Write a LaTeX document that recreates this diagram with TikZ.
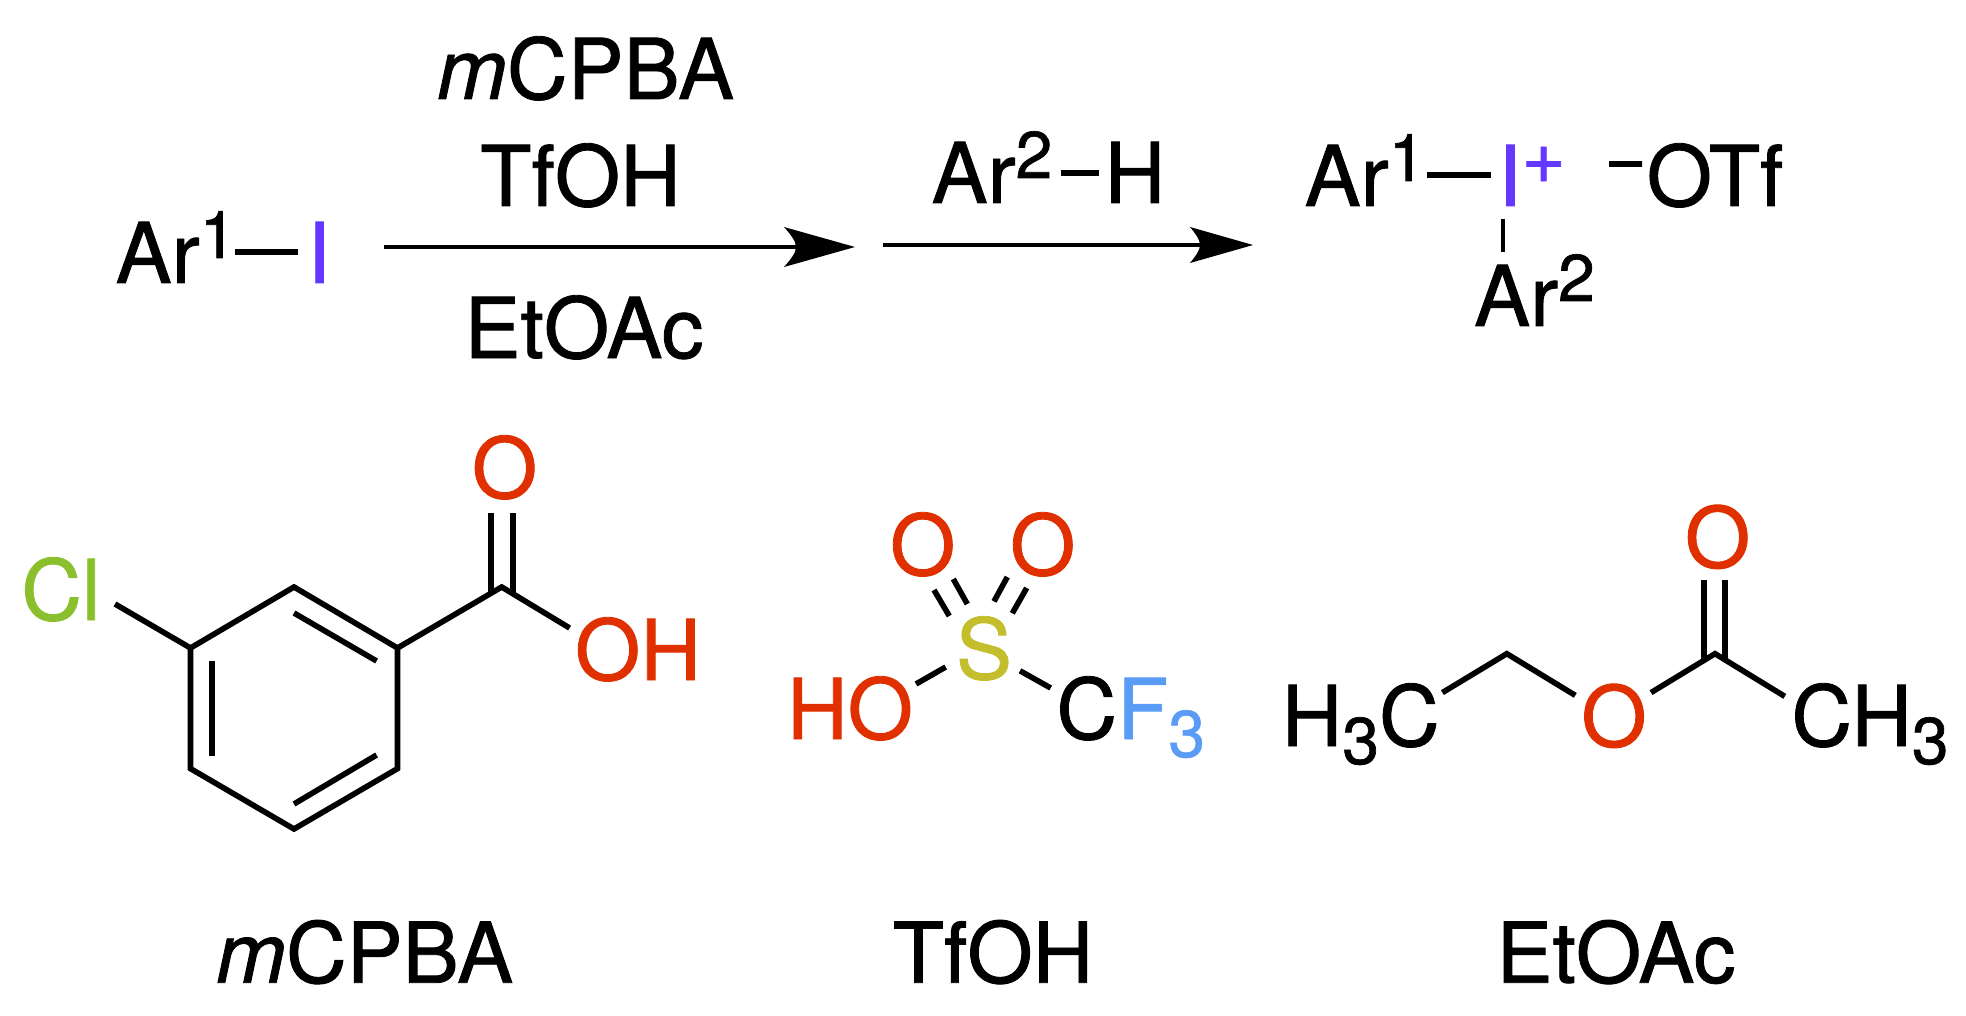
\documentclass[tikz,border=0pt]{standalone}
\usepackage{fontspec}
\setmainfont{TeX Gyre Heros}[FakeBold=1]
\usetikzlibrary{arrows.meta}
\definecolor{iod}{HTML}{6438FF}
\definecolor{oxy}{HTML}{E03000}
\definecolor{chl}{HTML}{8CBF2E}
\definecolor{sul}{HTML}{C4BE2C}
\definecolor{flu}{HTML}{5A9CF5}
\newcommand{\mkhead}[4]{%
  \pgfdeclarearrow{name=#1,
    setup code={\pgfarrowssettipend{#2}\pgfarrowssetlineend{#4}\pgfarrowssetvisualbackend{0pt}\pgfarrowssetbackend{0pt}},
    drawing code={%
      \pgfpathmoveto{\pgfqpoint{#2}{0pt}}%
      \pgfpathlineto{\pgfqpoint{0pt}{#3}}%
      \pgfpathcurveto{\pgfqpoint{0.55\dimexpr#4\relax}{0.62\dimexpr#3\relax}}{\pgfqpoint{\dimexpr#4\relax}{0.3\dimexpr#3\relax}}{\pgfqpoint{#4}{0pt}}%
      \pgfpathcurveto{\pgfqpoint{\dimexpr#4\relax}{-0.3\dimexpr#3\relax}}{\pgfqpoint{0.55\dimexpr#4\relax}{-0.62\dimexpr#3\relax}}{\pgfqpoint{0pt}{-#3}}%
      \pgfpathclose\pgfusepathqfill}}}
\mkhead{HeadA}{35.5pt}{10pt}{6pt}
\mkhead{HeadB}{31.5pt}{9pt}{5pt}
\newcommand{\supn}[1]{\raisebox{12.5pt}{\fontsize{33}{33}\selectfont #1}}
\newcommand{\subn}[1]{\raisebox{-9pt}{\fontsize{33}{33}\selectfont #1}}
\newcommand{\chgp}[1]{\raisebox{11.5pt}{\fontsize{38}{38}\selectfont #1}}
\newcommand{\chgm}[1]{\raisebox{12pt}{\fontsize{36}{36}\selectfont #1}}
\tikzset{
  lbl/.style={anchor=base,inner sep=0pt,font=\fontsize{42}{50}\selectfont},
  bond/.style={line width=2.8pt,line cap=butt,line join=miter},
  tbond/.style={line width=3.2pt,line cap=butt},
  rxn/.style={line width=2.2pt}
}
\begin{document}
\begin{tikzpicture}[x=0.5pt,y=-0.5pt]
\useasboundingbox (0,0) rectangle (1966,1016);
% --- reaction scheme
\node[lbl] (ar1) at (176,283) {Ar\supn{1}};
\node[lbl,text=iod] (iodo) at (319,283) {I};
\coordinate (ar1b) at (235,252);
\coordinate (iodob) at (298,252);
\draw[tbond] (ar1b) -- (iodob);
\node[lbl] (reagA) at (585.5,99) {\textit{m}CPBA};
\node[lbl] (reagB) at (580.5,206) {TfOH};
\node[lbl] (reagC) at (584,358) {EtOAc};
\coordinate (a1s) at (384,247);
\coordinate (a1e) at (855,247);
\draw[rxn,-{HeadA}] (a1s) -- (a1e);
\node[lbl] (ar2r) at (992,203) {Ar\supn{2}};
\node[lbl] (hr) at (1135,203) {H};
\coordinate (ar2rb) at (1061,173);
\coordinate (hrb) at (1099,173);
\draw[tbond] (ar2rb) -- (hrb);
\coordinate (a2s) at (883,245);
\coordinate (a2e) at (1253,245);
\draw[rxn,-{HeadB}] (a2s) -- (a2e);
\node[lbl] (par1) at (1365,206) {Ar\supn{1}};
\node[lbl,text=iod] (piod) at (1532,206) {I\chgp{+}};
\node[lbl] (otf) at (1694,206) {\chgm{−}OTf};
\node[lbl] (par2) at (1534.5,326) {Ar\supn{2}};
\coordinate (par1b) at (1427,175);
\coordinate (piodb) at (1491,175);
\draw[tbond] (par1b) -- (piodb);
\coordinate (piodv) at (1503,219);
\coordinate (par2v) at (1503,252);
\draw[line width=2.4pt] (piodv) -- (par2v);
% --- mCPBA
\coordinate (r1) at (294,587);
\coordinate (r2) at (397.5,648);
\coordinate (r3) at (397.5,768.6);
\coordinate (r4) at (294,829);
\coordinate (r5) at (190.5,768.6);
\coordinate (r6) at (190.5,648);
\draw[bond] (r1) -- (r2) -- (r3) -- (r4) -- (r5) -- (r6) -- cycle;
\coordinate (d1a) at (294,613);  \coordinate (d1b) at (376.6,661);
\coordinate (d2a) at (212,661);  \coordinate (d2b) at (212,755.6);
\coordinate (d3a) at (294,804);  \coordinate (d3b) at (376.6,755);
\draw[bond] (d1a) -- (d1b);
\draw[bond] (d2a) -- (d2b);
\draw[bond] (d3a) -- (d3b);
\coordinate (cc) at (501.7,587);
\coordinate (ohb) at (569.6,628);
\coordinate (clb) at (115,604);
\draw[bond] (r2) -- (cc) -- (ohb);
\draw[bond] (clb) -- (r6);
\coordinate (co1a) at (491,513); \coordinate (co1b) at (491,593);
\coordinate (co2a) at (513,513); \coordinate (co2b) at (513,593);
\draw[bond] (co1a) -- (co1b);
\draw[bond] (co2a) -- (co2b);
\node[lbl,text=oxy] (mo) at (504.6,498) {O};
\node[lbl,text=oxy] (moh) at (638,680) {OH};
\node[lbl,text=chl] (mcl) at (61,620) {Cl};
\node[lbl] (mname) at (364.6,982.7) {\textit{m}CPBA};
% --- TfOH
\node[lbl,text=oxy] (to1) at (922.7,575) {O};
\node[lbl,text=oxy] (to2) at (1042.7,575) {O};
\node[lbl,text=sul] (ts) at (984,679) {S};
\node[lbl,text=oxy] (tho) at (850,739) {HO};
\node[lbl] (tcf) at (1130.8,739) {C\textcolor{flu}{F\subn{3}}};
\node[lbl] (tname) at (993,982.7) {TfOH};
\coordinate (s1a) at (934,590);    \coordinate (s1b) at (949.3,616);
\coordinate (s2a) at (953.3,579);  \coordinate (s2b) at (967.3,604);
\coordinate (s3a) at (1007.3,577); \coordinate (s3b) at (994,601.4);
\coordinate (s4a) at (1026.7,588); \coordinate (s4b) at (1012.3,613.3);
\coordinate (s5a) at (916,684);    \coordinate (s5b) at (945.7,667);
\coordinate (s6a) at (1020,670.8); \coordinate (s6b) at (1050.7,688);
\draw[bond] (s1a) -- (s1b);
\draw[bond] (s2a) -- (s2b);
\draw[bond] (s3a) -- (s3b);
\draw[bond] (s4a) -- (s4b);
\draw[bond] (s5a) -- (s5b);
\draw[bond] (s6a) -- (s6b);
% --- EtOAc
\node[lbl,text=oxy] (eo1) at (1717.6,567.5) {O};
\node[lbl,text=oxy] (eo2) at (1614,746.5) {O};
\node[lbl] (eh3c) at (1360.7,746) {H\subn{3}C};
\node[lbl] (ech3) at (1870,746) {CH\subn{3}};
\node[lbl] (ename) at (1616,982.7) {EtOAc};
\coordinate (ecc) at (1715,653.7);
\coordinate (ech) at (1506.8,653.7);
\coordinate (e1) at (1442.4,692.6);
\coordinate (e2) at (1575.3,695.4);
\coordinate (e3) at (1651,692.6);
\coordinate (e4) at (1784.8,696.4);
\draw[bond] (e1) -- (ech) -- (e2);
\draw[bond] (e3) -- (ecc) -- (e4);
\coordinate (e5a) at (1703.7,580); \coordinate (e5b) at (1703.7,659);
\coordinate (e6a) at (1725,580);   \coordinate (e6b) at (1725,659);
\draw[bond] (e5a) -- (e5b);
\draw[bond] (e6a) -- (e6b);
\end{tikzpicture}
\end{document}
